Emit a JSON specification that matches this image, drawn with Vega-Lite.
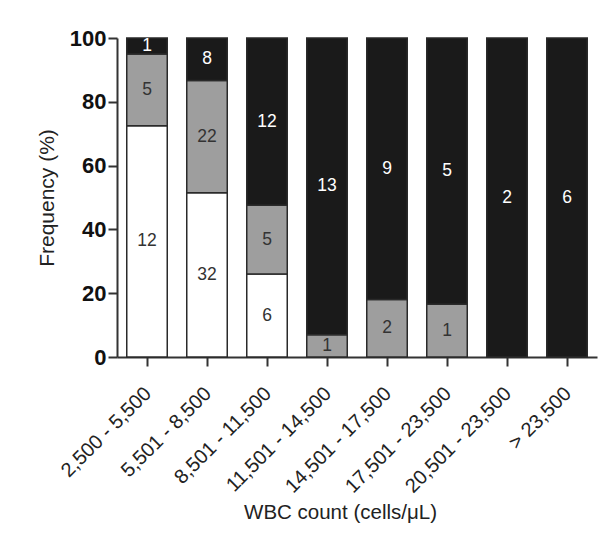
{
  "$schema": "https://vega.github.io/schema/vega-lite/v6.json",
  "autosize": {"type": "none"},
  "padding": {"left": 117, "top": 38, "right": 8, "bottom": 187},
  "width": 480,
  "height": 319,
  "background": "white",
  "data": {
    "values": [
      {"range": "2,500 - 5,500", "grp": "White", "rank": 1, "pct": 72.5, "n": 12},
      {"range": "2,500 - 5,500", "grp": "Gray", "rank": 2, "pct": 22.5, "n": 5},
      {"range": "2,500 - 5,500", "grp": "Black", "rank": 3, "pct": 5, "n": 1},
      {"range": "5,501 - 8,500", "grp": "White", "rank": 1, "pct": 51.5, "n": 32},
      {"range": "5,501 - 8,500", "grp": "Gray", "rank": 2, "pct": 35.2, "n": 22},
      {"range": "5,501 - 8,500", "grp": "Black", "rank": 3, "pct": 13.3, "n": 8},
      {"range": "8,501 - 11,500", "grp": "White", "rank": 1, "pct": 26, "n": 6},
      {"range": "8,501 - 11,500", "grp": "Gray", "rank": 2, "pct": 21.6, "n": 5},
      {"range": "8,501 - 11,500", "grp": "Black", "rank": 3, "pct": 52.4, "n": 12},
      {"range": "11,501 - 14,500", "grp": "Gray", "rank": 2, "pct": 7, "n": 1},
      {"range": "11,501 - 14,500", "grp": "Black", "rank": 3, "pct": 93, "n": 13},
      {"range": "14,501 - 17,500", "grp": "Gray", "rank": 2, "pct": 18, "n": 2},
      {"range": "14,501 - 17,500", "grp": "Black", "rank": 3, "pct": 82, "n": 9},
      {"range": "17,501 - 23,500", "grp": "Gray", "rank": 2, "pct": 16.5, "n": 1},
      {"range": "17,501 - 23,500", "grp": "Black", "rank": 3, "pct": 83.5, "n": 5},
      {"range": "20,501 - 23,500", "grp": "Black", "rank": 3, "pct": 100, "n": 2},
      {"range": "> 23,500", "grp": "Black", "rank": 3, "pct": 100, "n": 6}
    ]
  },
  "encoding": {
    "x": {
      "field": "range",
      "type": "nominal",
      "sort": null,
      "scale": {"paddingInner": 0.325, "paddingOuter": 0.1625},
      "axis": {
        "title": "WBC count (cells/μL)",
        "labelAngle": -45,
        "labelFont": "Liberation Sans",
        "labelFontSize": 20,
        "labelColor": "#222",
        "labelPadding": 17,
        "labelOffset": -6,
        "tickSize": 9,
        "tickWidth": 2,
        "tickColor": "#333",
        "domainColor": "#333",
        "domainWidth": 2,
        "titleFont": "Liberation Sans",
        "titleFontSize": 20.5,
        "titleFontWeight": "normal",
        "titleColor": "#222",
        "titleBaseline": "alphabetic",
        "titleX": 223,
        "titleY": 161
      }
    },
    "y": {
      "field": "pct",
      "type": "quantitative",
      "stack": "zero",
      "scale": {"domain": [0, 100], "nice": false},
      "axis": {
        "title": "Frequency (%)",
        "values": [0, 20, 40, 60, 80, 100],
        "grid": false,
        "labelFont": "Liberation Sans",
        "labelFontWeight": "bold",
        "labelFontSize": 22,
        "labelColor": "#111",
        "labelPadding": 2,
        "tickSize": 9,
        "tickWidth": 2,
        "tickColor": "#333",
        "domainColor": "#333",
        "domainWidth": 2,
        "titleFont": "Liberation Sans",
        "titleFontSize": 21,
        "titleFontWeight": "normal",
        "titleColor": "#222",
        "titleBaseline": "alphabetic",
        "titleX": -64
      }
    },
    "order": {"field": "rank", "type": "quantitative"}
  },
  "layer": [
    {
      "mark": {"type": "bar", "stroke": "#2a2a2a", "strokeWidth": 1.5},
      "encoding": {
        "fill": {
          "field": "grp",
          "type": "nominal",
          "scale": {"domain": ["White", "Gray", "Black"], "range": ["#ffffff", "#9e9e9e", "#1a1a1a"]},
          "legend": null
        }
      }
    },
    {
      "mark": {"type": "text", "font": "Liberation Sans", "fontSize": 17.5, "baseline": "middle", "align": "center"},
      "encoding": {
        "y": {"field": "pct", "type": "quantitative", "stack": "zero", "bandPosition": 0.5},
        "text": {"field": "n", "type": "quantitative"},
        "color": {
          "condition": {"test": "datum.grp === 'Black'", "value": "#ffffff"},
          "value": "#333333"
        }
      }
    }
  ],
  "config": {"view": {"stroke": null}}
}
